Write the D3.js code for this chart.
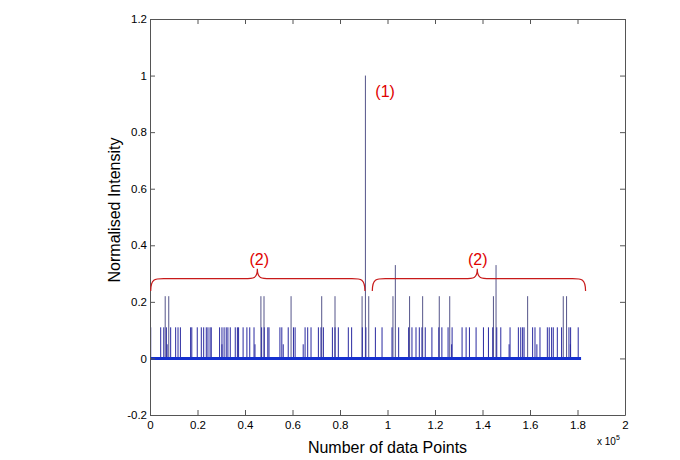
<!DOCTYPE html>
<html>
<head>
<meta charset="utf-8">
<script src="https://cdn.jsdelivr.net/npm/d3@7"></script>
<style>
  body { margin: 0; background: #fff; }
  text { font-family: "Liberation Sans", Arial, sans-serif; }
</style>
</head>
<body>
<svg id="chart"></svg>
<script>
// axis ticks
var xTicks = [0, 0.2, 0.4, 0.6, 0.8, 1, 1.2, 1.4, 1.6, 1.8, 2];
var yTicks = [-0.2, 0, 0.2, 0.4, 0.6, 0.8, 1, 1.2];

// spike positions (x in units of 1e5 data points), grouped by height
var peakX = [0.907];             // height 1.0
var tallX = [1.033, 1.457];      // height ~0.33
var midX = [0.064, 0.079, 0.467, 0.480, 0.594, 0.723, 0.779, 0.893, 0.921,
            1.023, 1.093, 1.148, 1.218, 1.262, 1.446, 1.590, 1.740, 1.754];   // ~0.22
var lowX = [0.003, 0.045, 0.058, 0.069, 0.087, 0.108, 0.118, 0.128, 0.171, 0.176,
            0.199, 0.216, 0.226, 0.237, 0.244, 0.253, 0.258, 0.293, 0.303, 0.312,
            0.321, 0.328, 0.338, 0.359, 0.368, 0.373, 0.392, 0.408, 0.420, 0.438,
            0.470, 0.481, 0.496, 0.501, 0.547, 0.555, 0.582, 0.604, 0.611, 0.653,
            0.664, 0.678, 0.709, 0.720, 0.730, 0.768, 0.779, 0.793, 0.835, 0.849,
            0.894, 0.909, 0.949, 0.977, 1.019, 1.047, 1.089, 1.103, 1.120, 1.134,
            1.145, 1.159, 1.187, 1.216, 1.229, 1.255, 1.272, 1.314, 1.331, 1.345,
            1.373, 1.404, 1.425, 1.443, 1.460, 1.477, 1.516, 1.551, 1.561, 1.569,
            1.575, 1.611, 1.621, 1.642, 1.673, 1.681, 1.691, 1.698, 1.715, 1.733,
            1.764, 1.771, 1.803];  // ~0.11
var shortX = [0.442, 0.561, 0.645, 0.303, 0.072, 1.270, 1.512, 1.629, 1.770];  // ~0.05
var levels = {peak: 1.0, tall: 0.33, mid: 0.22, low: 0.11, short: 0.05};
var baseExtent = [0, 1.815];

// braces: [start, tip, end] in x, and y levels for end, flat, tip
var braces = [[0.003, 0.452, 0.905], [0.936, 1.378, 1.834]];
var braceY = {end: 0.238, flat: 0.282, tip: 0.317};
var labels = [
  {text: "(1)", x: 0.99, y: 0.925},
  {text: "(2)", x: 0.46, y: 0.33},
  {text: "(2)", x: 1.38, y: 0.33}
];

var W = 680, H = 460;
var margin = {top: 19, right: 55, bottom: 45, left: 150};
var width = W - margin.left - margin.right,
    height = H - margin.top - margin.bottom;

var svg = d3.select("#chart").attr("width", W).attr("height", H);
var g = svg.append("g")
    .attr("transform", "translate(" + margin.left + "," + margin.top + ")");

var x = d3.scaleLinear().domain([0, 2]).range([0, width]);
var y = d3.scaleLinear().domain([-0.2, 1.2]).range([height, 0]);

var fmt = function(d) { return String(+d.toFixed(1)); };

// build spike list
var spikes = [];
peakX.forEach(function(d) { spikes.push({x: d, y: levels.peak}); });
tallX.forEach(function(d) { spikes.push({x: d, y: levels.tall}); });
midX.forEach(function(d) { spikes.push({x: d, y: levels.mid}); });
lowX.forEach(function(d) { spikes.push({x: d, y: levels.low}); });
shortX.forEach(function(d) { spikes.push({x: d, y: levels.short}); });

g.selectAll(".spike")
    .data(spikes)
  .enter().append("line")
    .attr("class", "spike")
    .attr("x1", function(d) { return x(d.x); })
    .attr("x2", function(d) { return x(d.x); })
    .attr("y1", y(0))
    .attr("y2", function(d) { return y(d.y); })
    .attr("stroke", function(d) { return d.y > 0.2 ? "#55558a" : "#2a2aa0"; })
    .attr("stroke-width", 1);

// thick noisy baseline
g.append("line")
    .attr("x1", x(baseExtent[0])).attr("x2", x(baseExtent[1]))
    .attr("y1", y(0)).attr("y2", y(0))
    .attr("stroke", "#1530d0")
    .attr("stroke-width", 3);

// axes box with inward ticks
var axisColor = "#555";
var tickLen = 5;
var axBottom = g.append("g").attr("transform", "translate(0," + height + ")")
    .call(d3.axisBottom(x).tickValues(xTicks).tickSizeInner(-tickLen).tickSizeOuter(0)
      .tickFormat(fmt).tickPadding(4));
var axTop = g.append("g")
    .call(d3.axisTop(x).tickValues(xTicks).tickSizeInner(-tickLen).tickSizeOuter(0).tickFormat(""));
var axLeft = g.append("g")
    .call(d3.axisLeft(y).tickValues(yTicks).tickSizeInner(-tickLen).tickSizeOuter(0)
      .tickFormat(fmt).tickPadding(3));
var axRight = g.append("g").attr("transform", "translate(" + width + ",0)")
    .call(d3.axisRight(y).tickValues(yTicks).tickSizeInner(-tickLen).tickSizeOuter(0).tickFormat(""));

[axBottom, axTop, axLeft, axRight].forEach(function(a) {
  a.select(".domain").attr("stroke", axisColor);
  a.selectAll(".tick line").attr("stroke", axisColor);
  a.selectAll(".tick text").attr("fill", "#000").style("font-size", "11.5px")
    .style("font-family", "'Liberation Sans', Arial, sans-serif");
});
axBottom.selectAll(".tick text").attr("dy", "0.9em");

// braces
braces.forEach(function(b) {
  var x0 = x(b[0]), xm = x(b[1]), x1 = x(b[2]);
  var ye = y(braceY.end), yf = y(braceY.flat), yt = y(braceY.tip);
  var r = 13;
  var p = d3.path();
  p.moveTo(x0, ye);
  p.bezierCurveTo(x0, yf, x0 + 4, yf, x0 + r, yf);
  p.lineTo(xm - r, yf);
  p.bezierCurveTo(xm - 4, yf, xm, yf, xm, yt);
  p.bezierCurveTo(xm, yf, xm + 4, yf, xm + r, yf);
  p.lineTo(x1 - r, yf);
  p.bezierCurveTo(x1 - 4, yf, x1, yf, x1, ye);
  g.append("path")
      .attr("d", p.toString())
      .attr("fill", "none")
      .attr("stroke", "#c81a1a")
      .attr("stroke-width", 1.2);
});

g.selectAll(".lbl")
    .data(labels)
  .enter().append("text")
    .attr("class", "lbl")
    .attr("x", function(d) { return x(d.x); })
    .attr("y", function(d) { return y(d.y); })
    .attr("text-anchor", "middle")
    .attr("fill", "#e00000")
    .style("font-size", "16px")
    .text(function(d) { return d.text; });

// axis titles
g.append("text")
    .attr("x", width / 2)
    .attr("y", height + 38)
    .attr("text-anchor", "middle")
    .style("font-size", "16px")
    .text("Number of data Points");

g.append("text")
    .attr("transform", "rotate(-90)")
    .attr("x", -height / 2 + 7)
    .attr("y", -30)
    .attr("text-anchor", "middle")
    .style("font-size", "16px")
    .text("Normalised Intensity");

var mult = g.append("text")
    .attr("x", width - 28)
    .attr("y", height + 30)
    .style("font-size", "10px");
mult.append("tspan").text("x 10");
mult.append("tspan").attr("dy", -5).style("font-size", "7px").text("5");
</script>
</body>
</html>
